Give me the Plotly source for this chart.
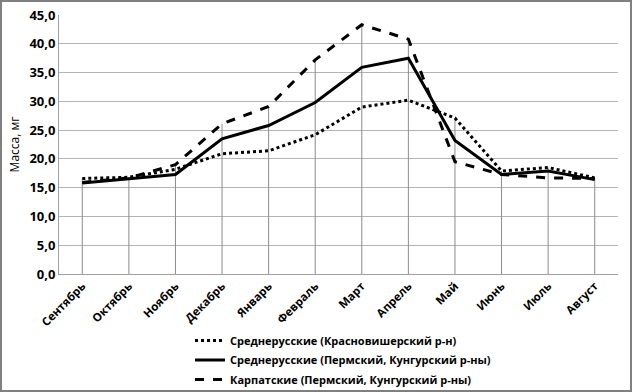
import plotly.graph_objects as go

months = ["Сентябрь", "Октябрь", "Ноябрь", "Декабрь", "Январь", "Февраль",
          "Март", "Апрель", "Май", "Июнь", "Июль", "Август"]
names = ["Среднерусские (Красновишерский р-н)",
         "Среднерусские (Пермский, Кунгурский р-ны)",
         "Карпатские (Пермский, Кунгурский р-ны)"]
krasnovish = [16.6, 16.8, 18.2, 20.9, 21.4, 24.2, 29.0, 30.2, 27.1, 17.9, 18.5, 16.7]
perm_sr = [15.8, 16.6, 17.3, 23.5, 25.8, 29.8, 35.9, 37.5, 23.2, 17.3, 17.9, 16.4]
karpat = [15.9, 16.7, 19.0, 26.1, 29.1, 37.2, 43.3, 40.8, 19.5, 17.3, 16.7, 16.6]
y_title = "Масса, мг"

W, H = 632, 392
ml, mr, mt, mb = 59, 14, 15, 118
pw, ph = W - ml - mr, H - mt - mb

fig = go.Figure()

# drop lines from highest point to axis
dx, dy = [], []
for i, m in enumerate(months):
    top = max(krasnovish[i], perm_sr[i], karpat[i])
    dx += [m, m, None]
    dy += [top, 0, None]
fig.add_trace(go.Scatter(x=dx, y=dy, mode="lines", line=dict(color="#8c8c8c", width=1),
                         showlegend=False, hoverinfo="skip"))

styles = ["dot", "solid", "dash"]
for k, (nm, vals, st) in enumerate(zip(names, [krasnovish, perm_sr, karpat], styles)):
    fig.add_trace(go.Scatter(x=months, y=vals, name=nm, mode="lines", legendgroup=f"g{k}",
                             line=dict(color="black", width=3, dash=st)))

fig.update_layout(
    width=W, height=H,
    margin=dict(l=ml, r=mr, t=mt, b=mb, autoexpand=False),
    paper_bgcolor="white", plot_bgcolor="white",
    separators=", ",
    font=dict(family="Open Sans", color="black"),
    showlegend=True,
    legend=dict(orientation="v", x=(190 - ml) / pw, xanchor="left",
                y=-(326 - mt - ph) / ph, yanchor="top",
                font=dict(size=11, weight="bold", family="Open Sans"),
                traceorder="grouped", tracegroupgap=0.5,
                bgcolor="rgba(0,0,0,0)"),
)

fig.update_xaxes(type="category", showgrid=False, ticks="", tickangle=-45,
                 tickfont=dict(size=11.5, weight="bold"), showline=True,
                 linecolor="#a0a0a0", linewidth=1, range=[-0.5, 11.5])
fig.update_yaxes(range=[0, 45], dtick=5, tickformat=".1f", showgrid=True,
                 gridcolor="#b4b4b4", gridwidth=1, zeroline=False,
                 showline=True, linecolor="#a0a0a0", linewidth=1,
                 tickfont=dict(size=13, weight="bold"), ticks="",
                 title=dict(text=y_title, font=dict(size=12), standoff=7))

fig.add_shape(type="rect", xref="paper", yref="paper",
              x0=-(ml - 1) / pw, x1=1 + (mr - 1) / pw,
              y0=-(mb - 1) / ph, y1=1 + (mt - 1) / ph,
              line=dict(color="#7f7f7f", width=2), layer="below")

fig.write_html("out.html", config={"displayModeBar": False},
               post_script="document.body.style.margin='0';document.body.style.overflow='hidden';")
